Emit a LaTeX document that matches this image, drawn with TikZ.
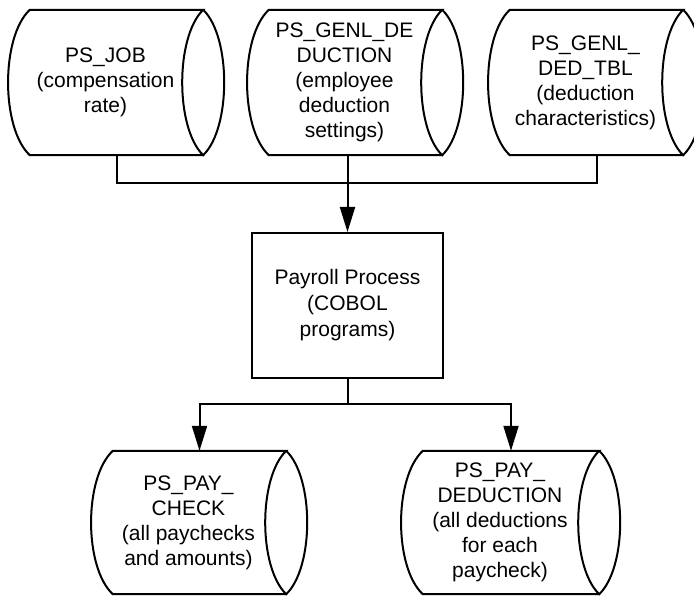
\documentclass[tikz,border=0pt]{standalone}
\usepackage{fontspec}
\setmainfont{Liberation Sans}
\usetikzlibrary{arrows.meta}
\tikzset{
  store/.style={rectangle, minimum width=173pt, minimum height=145pt, inner sep=0pt},
  storetext/.style={align=center, font=\fontsize{21}{25}\selectfont},
  outline/.style={line width=2pt, line join=miter},
  process/.style={rectangle, draw, line width=2pt, minimum width=191pt,
    minimum height=145pt, align=center, font=\fontsize{21}{26}\selectfont},
  flow/.style={line width=2pt, -{Triangle[length=25pt,width=15pt]}},
  link/.style={line width=2pt}
}
\begin{document}
\begin{tikzpicture}[x=1pt,y=-1pt]
\useasboundingbox (0,0) rectangle (694,596);
% data stores, top row
\node[store] (job) at (116.5,82.5) {};
\node[storetext] at ([xshift=-11pt]job.center) {PS\_JOB\\(compensation\\rate)};
\node[store] (ded) at (355.5,82.5) {};
\node[storetext] at ([xshift=-11pt]ded.center) {PS\_GENL\_DE\\DUCTION\\(employee\\deduction\\settings)};
\node[store] (tbl) at (596.5,82.5) {};
\node[storetext] at ([xshift=-11pt]tbl.center) {PS\_GENL\_\\DED\_TBL\\(deduction\\characteristics)};
% process
\node[process] (pay) at (347.5,305.5) {Payroll Process\\(COBOL\\programs)};
% data stores, bottom row
\node[store, minimum height=143pt] (chk) at (199.5,522.5) {};
\node[storetext] at ([xshift=-11pt]chk.center) {PS\_PAY\_\\CHECK\\(all paychecks\\and amounts)};
\node[store, minimum height=143pt, minimum width=176pt] (pded) at (511,522.5) {};
\node[storetext] at ([xshift=-11pt]pded.center) {PS\_PAY\_\\DEDUCTION\\(all deductions\\for each\\paycheck)};
% cylinder outlines
\foreach \n in {job,ded,tbl,chk,pded}{
  \draw[outline] (\n.north east) .. controls +(28,27) and +(28,-27) .. (\n.south east)
    .. controls +(-28,-27) and +(-28,27) .. (\n.north east) -- (\n.north west)
    .. controls +(-29,27) and +(-29,-27) .. (\n.south west) -- (\n.south east);
}
% connectors
\coordinate (top) at (347.5,183);
\coordinate (bot) at (347.5,404);
\draw[link] (job.south) |- (top) -| (tbl.south);
\draw[link] (pay.north |- ded.south) -- (top);
\draw[flow] (top) -- (pay.north);
\draw[link] (pay.south) -- (bot);
\draw[flow] (bot) -| (chk.north);
\draw[flow] (bot) -| (pded.north);
\end{tikzpicture}
\end{document}
